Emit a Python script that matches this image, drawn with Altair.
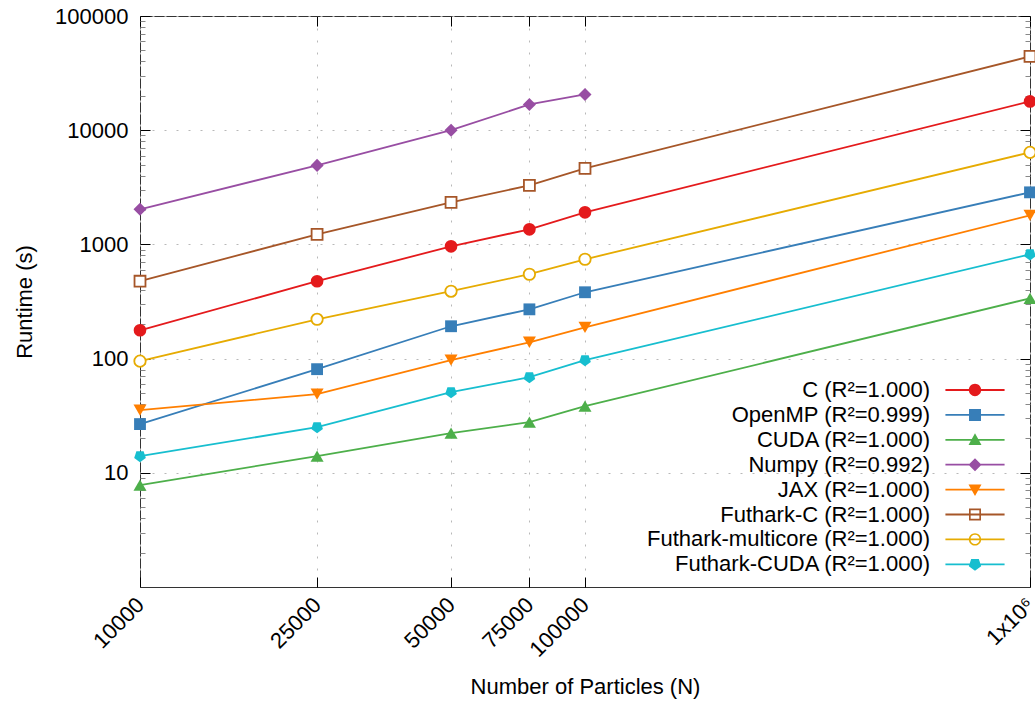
import altair as alt
import pandas as pd

# ---------------- data ----------------
particles = [10000, 25000, 50000, 75000, 100000, 1000000]
series = ["C", "OpenMP", "CUDA", "Numpy", "JAX", "Futhark-C",
          "Futhark-multicore", "Futhark-CUDA"]
r_squared = ["1.000", "0.999", "1.000", "0.992", "1.000", "1.000", "1.000", "1.000"]

c_times = [177, 476, 962, 1355, 1910, 17870]
openmp_times = [26.7, 80.8, 192, 270, 381, 2857]
cuda_times = [7.8, 14.0, 22.3, 27.8, 38.3, 337]
numpy_times = [2028, 4920, 10000, 16800, 20560]
jax_times = [35.4, 48.8, 96.8, 139, 188, 1797]
futhark_c_times = [476, 1225, 2335, 3290, 4630, 44250]
futhark_mc_times = [95, 221, 389, 548, 741, 6395]
futhark_cuda_times = [14.0, 25.1, 50.8, 68.7, 96.8, 819]

y_major = [10, 100, 1000, 10000, 100000]
y_minor = [m * d for d in [1, 10, 100, 1000, 10000] for m in range(2, 10)]

all_times = [c_times, openmp_times, cuda_times, numpy_times, jax_times,
             futhark_c_times, futhark_mc_times, futhark_cuda_times]
labels = [f"{s} (R\u00b2={r})" for s, r in zip(series, r_squared)]

rows = []
for s, lab, times in zip(series, labels, all_times):
    for n, t in zip(particles, times):
        rows.append({"N": n, "time": t, "series": s, "label": lab})
df = pd.DataFrame(rows)

# ---------------- style ----------------
colors = ["#e41a1c", "#377eb8", "#4daf4a", "#984ea3", "#ff7f00",
          "#a65628", "#e6ab02", "#17becf"]
PENT = "M0,1L-0.951,0.309L-0.588,-0.809L0.588,-0.809L0.951,0.309Z"
# (shape, filled, size)
markers = [("circle", True, 160), ("square", True, 140), ("triangle-up", True, 170),
           ("diamond", True, 170), ("triangle-down", True, 170), ("square", False, 120),
           ("circle", False, 130), (PENT, True, 150)]

LINE = "M-4.55,-0.14H4.55V0.14H-4.55Z"
CIR = "M-0.95,0A0.95,0.95 0 1,1 0.95,0A0.95,0.95 0 1,1 -0.95,0Z"
CIR_IN = "M-0.7,0A0.7,0.7 0 1,0 0.7,0A0.7,0.7 0 1,0 -0.7,0Z"
SQ = "M-0.92,-0.92H0.92V0.92H-0.92Z"
SQ_IN = "M-0.67,-0.67V0.67H0.67V-0.67Z"
TUP = "M0,-1L1,0.8L-1,0.8Z"
TDN = "M0,1L-1,-0.8L1,-0.8Z"
DIA = "M-1,0L0,-1L1,0L0,1Z"
legend_paths = [LINE + CIR, LINE + SQ, LINE + TUP, LINE + DIA, LINE + TDN,
                LINE + SQ + SQ_IN, LINE + CIR + CIR_IN, LINE + PENT]

FONT = "Liberation Sans"
FS = 22

x_scale = alt.Scale(type="log", domain=[10000, 1000000], nice=False)
y_scale = alt.Scale(type="log", domain=[1, 100000], nice=False)
color_scale = alt.Scale(domain=labels, range=colors)

x_bottom = alt.Axis(
    orient="bottom", values=particles,
    labelExpr="datum.value >= 1000000 ? '1x10\u2076' : format(datum.value, 'd')",
    labelAngle=-45, labelAlign="right", labelBaseline="middle", labelPadding=14,
    labelFlush=False, labelOverlap=False, labelFontSize=FS, labelFont=FONT,
    labelColor="black", offset=-10, tickSize=10, tickColor="black", domain=False,
    grid=True, gridDash=[2, 10], gridColor="#b8b8b8", gridWidth=1,
    title="Number of Particles (N)", titleFontSize=FS, titleFont=FONT,
    titleFontWeight="normal", titleColor="black", titleBaseline="top", titleY=99)
x_top = alt.Axis(orient="top", values=particles, labels=False, offset=-10,
                 tickSize=10, tickColor="black", domain=False, grid=False, title=None)
y_left = alt.Axis(
    orient="left", values=y_major, format="d", labelPadding=12, labelFlush=False,
    labelOverlap=False, labelFontSize=FS, labelFont=FONT, labelColor="black",
    offset=-10, tickSize=10, tickColor="black", domain=False, grid=True,
    gridDash=[2, 10], gridColor="#b8b8b8", gridWidth=1, title="Runtime (s)",
    titleFontSize=FS, titleFont=FONT, titleFontWeight="normal", titleColor="black",
    titleX=-114)
y_left_minor = alt.Axis(orient="left", values=y_minor, labels=False, offset=-5,
                        tickSize=5, tickColor="#888888", domain=False, grid=False,
                        title=None)
y_right = alt.Axis(orient="right", values=y_major, labels=False, offset=-10,
                   tickSize=10, tickColor="black", domain=False, grid=False, title=None)
y_right_minor = alt.Axis(orient="right", values=y_minor, labels=False, offset=-5,
                         tickSize=5, tickColor="#888888", domain=False, grid=False,
                         title=None)

base = alt.Chart(df)

legend_props = dict(
    orient="none", legendX=776, legendY=363, direction="vertical", title=None,
    labelAlign="right", labelBaseline="middle", labelOffset=alt.ExprRef("-56"),
    symbolOffset=48, labelFontSize=FS, labelFont=FONT, labelColor="black",
    labelLimit=0, symbolSize=169, symbolStrokeWidth=0, symbolOpacity=1,
    rowPadding=2.9, padding=0)

# invisible layer carrying the legend and the main axes
legend_layer = base.mark_point(filled=True, opacity=0, size=10).encode(
    x=alt.X("N:Q", scale=x_scale, axis=x_bottom),
    y=alt.Y("time:Q", scale=y_scale, axis=y_left),
    color=alt.Color("label:N", scale=color_scale, sort=labels,
                    legend=alt.Legend(**legend_props)),
    shape=alt.Shape("label:N", scale=alt.Scale(domain=labels, range=legend_paths),
                    sort=labels, legend=alt.Legend(**legend_props)),
)

extra_axes = [(x_top, y_left_minor), (None, y_right), (None, y_right_minor)]

line_layers = []
point_layers = []
for i, (s, col, (shp, filled, size)) in enumerate(zip(series, colors, markers)):
    xax, yax = extra_axes[i] if i < len(extra_axes) else (None, None)
    sub = base.transform_filter(alt.datum.series == s)
    line_layers.append(
        sub.mark_line(strokeWidth=1.8, color=col).encode(
            x=alt.X("N:Q", scale=x_scale, axis=xax),
            y=alt.Y("time:Q", scale=y_scale, axis=yax),
        )
    )
    if filled:
        mk = sub.mark_point(shape=shp, filled=True, size=size, color=col, opacity=1)
    else:
        mk = sub.mark_point(shape=shp, filled=False, size=size, stroke=col,
                            fill="white", fillOpacity=1, strokeWidth=1.8, opacity=1)
    point_layers.append(
        mk.encode(
            x=alt.X("N:Q", scale=x_scale, axis=None),
            y=alt.Y("time:Q", scale=y_scale, axis=None),
        )
    )

chart = alt.layer(legend_layer, *line_layers, *point_layers).resolve_axis(
    x="independent", y="independent"
).properties(
    width=890, height=571,
    autosize=alt.AutoSizeParams(type="none"),
    padding={"left": 140, "top": 16, "right": 5, "bottom": 115},
).configure(font=FONT).configure_view(stroke="#333333", strokeWidth=1)

chart.save("out.html", embed_options={"renderer": "svg", "actions": False})
